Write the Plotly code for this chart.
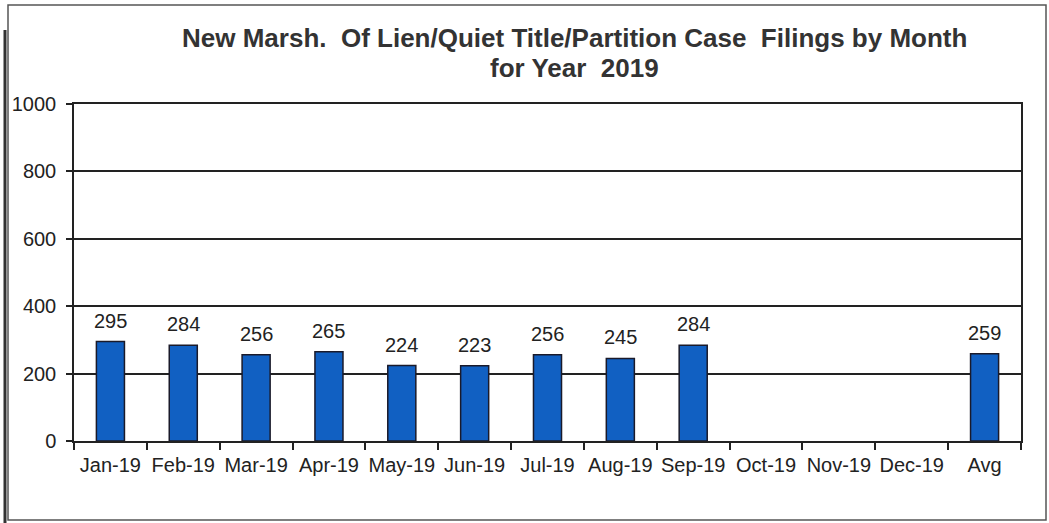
import plotly.graph_objects as go

categories = ["Jan-19", "Feb-19", "Mar-19", "Apr-19", "May-19", "Jun-19", "Jul-19",
              "Aug-19", "Sep-19", "Oct-19", "Nov-19", "Dec-19", "Avg"]
filings = [295, 284, 256, 265, 224, 223, 256, 245, 284, None, None, None, 259]
y_ticks = [0, 200, 400, 600, 800, 1000]
title_lines = ["New Marsh.  Of Lien/Quiet Title/Partition Case  Filings by Month",
               "for Year  2019"]

FONT = "Liberation Sans, Arial"
INK = "#222"

PW, PH, PX, PY = 947.0, 337.0, 74.0, 104.0   # plot area size and offset
def px(sx):
    return (sx - PX) / PW
def py(sy):
    return 1 - (sy - PY) / PH

fig = go.Figure()
fig.add_trace(go.Bar(
    x=categories, y=filings,
    marker=dict(color="#1160C2", line=dict(color="#1a1a2a", width=1.5)),
    width=0.385,
))

for c, v in zip(categories, filings):
    if v is None:
        continue
    fig.add_annotation(x=c, y=v, text=str(v), showarrow=False, yshift=21,
                       yanchor="middle", font=dict(family=FONT, size=20, color=INK))

for line, sy in zip(title_lines, [38, 68]):
    fig.add_annotation(xref="paper", yref="paper", x=px(574), y=py(sy),
                       text="<b>" + line + "</b>", showarrow=False,
                       xanchor="center", yanchor="middle",
                       font=dict(family=FONT, size=26, color="#333"))

fig.update_layout(
    width=1049, height=523,
    margin=dict(l=74, r=28, t=104, b=82),
    paper_bgcolor="white", plot_bgcolor="white",
    showlegend=False,
    font=dict(family=FONT, size=20, color=INK),
    xaxis=dict(
        type="category", showline=True, linecolor=INK, linewidth=1.5, mirror=True,
        ticks="outside", tickson="boundaries", ticklen=7, tickcolor=INK, tickwidth=1.5,
        tickfont=dict(size=20, color=INK), showgrid=False, ticklabelstandoff=5,
        tickangle=0, automargin=False,
    ),
    yaxis=dict(
        range=[0, 1000], tickvals=y_ticks, showline=True, linecolor=INK, linewidth=1.5,
        mirror=True, ticks="outside", ticklen=6, tickcolor=INK, tickwidth=1.5,
        gridcolor=INK, gridwidth=1.5, zeroline=False, ticklabelstandoff=6,
        tickfont=dict(size=20, color=INK), automargin=False,
    ),
)

# outer chart frame
fig.add_shape(type="rect", xref="paper", yref="paper",
              x0=px(8), x1=px(1046), y0=py(520), y1=py(5),
              line=dict(color="#555", width=1.5), fillcolor="rgba(0,0,0,0)", layer="below")
# scanned edge line on left
fig.add_shape(type="line", xref="paper", yref="paper",
              x0=px(5), x1=px(5), y0=py(523), y1=py(30),
              line=dict(color="#333", width=3))

fig.write_html("out.html", config={"displayModeBar": False},
               post_script="document.body.style.margin='0';")
